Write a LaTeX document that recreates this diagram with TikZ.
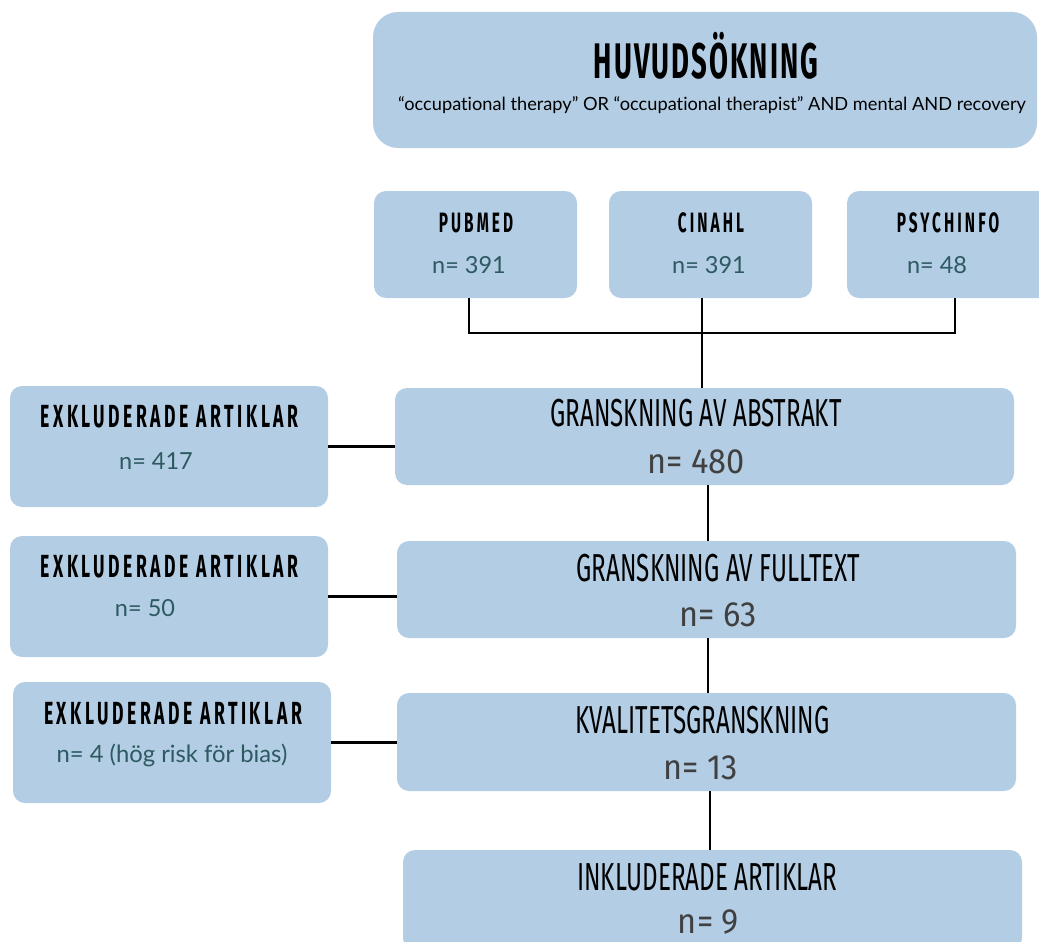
\documentclass[tikz,border=0pt]{standalone}
\usepackage{fontspec}
\setmainfont[Ligatures=NoCommon]{Lato}
\newfontfamily\hfam[FakeStretch=0.55]{Fira Sans}
\newfontfamily\lfam[FakeStretch=0.62]{Fira Sans}
\newfontfamily\nfam[FakeStretch=0.93]{Fira Sans}
\definecolor{boxblue}{RGB}{179,205,228}
\definecolor{tealtxt}{RGB}{44,90,96}
\definecolor{graytxt}{RGB}{64,64,64}
\tikzset{
  x=1pt, y=-1pt,
  box/.style={fill=boxblue, draw=none, inner sep=0pt, rounded corners=12pt},
  bigbox/.style={box, minimum width=619pt, minimum height=97pt},
  exbox/.style={box, minimum width=318pt, minimum height=121pt},
  srcbox/.style={box, minimum width=203pt, minimum height=107pt},
  link/.style={draw=black, line width=2.6pt},
  titletxt/.style={inner sep=0pt, font=\hfam\bfseries\addfontfeature{LetterSpace=4}\fontsize{50}{54}\selectfont},
  subtxt/.style={inner sep=0pt, font=\fontsize{18.2}{22}\selectfont},
  srctxt/.style={inner sep=0pt, font=\hfam\bfseries\addfontfeature{LetterSpace=11}\fontsize{28}{32}\selectfont},
  extxt/.style={inner sep=0pt, font=\hfam\bfseries\addfontfeature{LetterSpace=11}\fontsize{32}{36}\selectfont},
  ntxt/.style={inner sep=0pt, text=tealtxt, font=\fontsize{23.5}{28}\selectfont},
  mainhd/.style={inner sep=0pt, font=\lfam\fontsize{39}{44}\selectfont},
  mainn/.style={inner sep=0pt, text=graytxt, font=\nfam\fontsize{35}{40}\selectfont},
}
\begin{document}
\begin{tikzpicture}
\useasboundingbox (0,0) rectangle (1039,942);
\clip (0,0) rectangle (1039,942);
% boxes
\node[box, rounded corners=25pt, minimum width=664pt, minimum height=136pt] (top) at (705,80) {};
\node[srcbox] (pub) at (475.5,244.5) {};
\node[srcbox] (cin) at (710.5,244.5) {};
\node[srcbox] (psy) at (948.5,244.5) {};
\node[bigbox] (abs) at (704.5,436.5) {};
\node[bigbox] (full) at (706.5,589.5) {};
\node[bigbox, minimum height=98pt] (kval) at (706.5,742) {};
\node[bigbox, minimum height=100pt] (ink) at (712.5,900) {};
\node[exbox] (ex1) at (169,446.5) {};
\node[exbox] (ex2) at (169,596.5) {};
\node[exbox] (ex3) at (172,742.5) {};
% connectors
\coordinate (busL) at (469,333);
\coordinate (busC) at (702,333);
\coordinate (busR) at (955,333);
\draw[link] (busL |- pub.south) -- (busL) -- (busR) -- (busR |- psy.south);
\draw[link] (busC |- cin.south) -- (busC |- abs.north);
\coordinate (colA) at (708,0);
\coordinate (colB) at (710,0);
\draw[link] (colA |- abs.south) -- (colA |- full.north);
\draw[link] (colA |- full.south) -- (colA |- kval.north);
\draw[link] (colB |- kval.south) -- (colB |- ink.north);
\draw[link] (ex1.east) -- (ex1.east -| abs.west);
\draw[link] (ex2.east) -- (ex2.east -| full.west);
\draw[link] (ex3.east) -- (ex3.east -| kval.west);
% texts
\node[titletxt] (t1) at (706,56) {HUVUDSÖKNING};
\node[subtxt] (t2) at (712,105) {“occupational therapy” OR “occupational therapist” AND mental AND recovery};
\node[srctxt] (s1) at (476,223) {PUBMED};
\node[ntxt] (s1n) at (469,265) {n= 391};
\node[srctxt] (s2) at (711,223) {CINAHL};
\node[ntxt] (s2n) at (709,265) {n= 391};
\node[srctxt] (s3) at (948,223) {PSYCHINFO};
\node[ntxt] (s3n) at (937,265) {n= 48};
\node[extxt] (e1) at (169.5,417) {EXKLUDERADE ARTIKLAR};
\node[ntxt] (e1n) at (156,461) {n= 417};
\node[extxt] (e2) at (169.5,567) {EXKLUDERADE ARTIKLAR};
\node[ntxt] (e2n) at (145,608) {n= 50};
\node[extxt] (e3) at (173,714) {EXKLUDERADE ARTIKLAR};
\node[ntxt, font=\fontsize{23.8}{28}\selectfont] (e3n) at (172,755) {n= 4 (hög risk för bias)};
\node[mainhd] (m1) at (696,413) {GRANSKNING AV ABSTRAKT};
\node[mainn] (m1n) at (696,462) {n= 480};
\node[mainhd] (m2) at (718.5,568) {GRANSKNING AV FULLTEXT};
\node[mainn] (m2n) at (718,615) {n= 63};
\node[mainhd] (m3) at (702.5,720) {KVALITETSGRANSKNING};
\node[mainn] (m3n) at (701,768) {n= 13};
\node[mainhd] (m4) at (707,877) {INKLUDERADE ARTIKLAR};
\node[mainn] (m4n) at (708.5,922) {n= 9};
\end{tikzpicture}
\end{document}
